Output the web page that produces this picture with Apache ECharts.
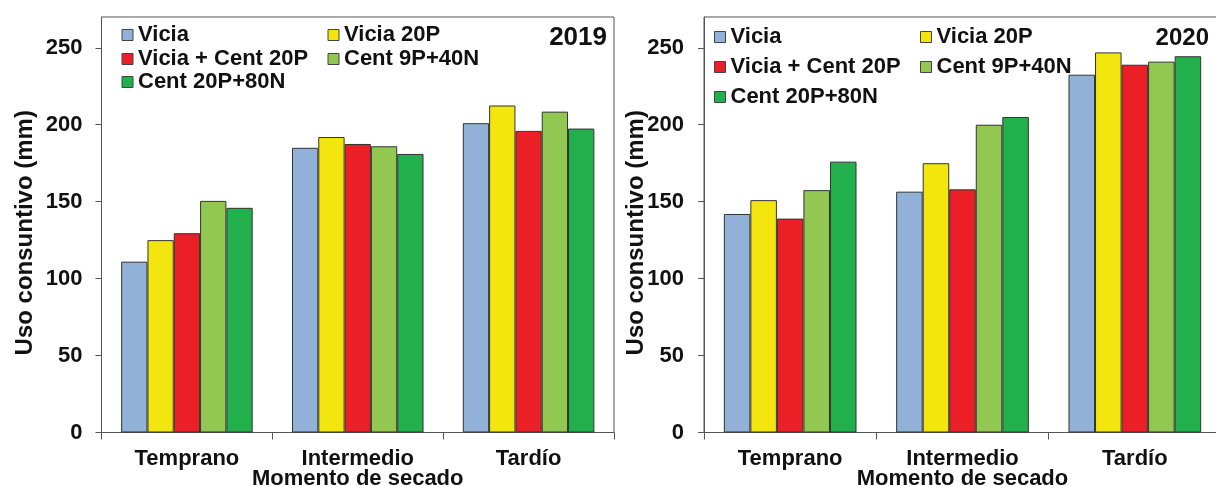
<!DOCTYPE html>
<html>
<head>
<meta charset="utf-8">
<script src="https://cdn.jsdelivr.net/npm/echarts@6/dist/echarts.min.js"></script>
<style>
html,body{margin:0;padding:0;background:#fff;}
#chart{width:1216px;height:486px;}
</style>
</head>
<body>
<div id="chart"></div>
<script>
// ---- data ----
const categories = ['Temprano', 'Intermedio', 'Tardío'];
const seriesNames = ['Vicia', 'Vicia 20P', 'Vicia + Cent 20P', 'Cent 9P+40N', 'Cent 20P+80N'];
const yTicks = [0, 50, 100, 150, 200, 250];

// 2019
const vicia2019      = [111, 185, 201];
const vicia20P2019   = [125, 192, 212.5];
const viciaCent2019  = [129.5, 187.5, 196];
const cent9P2019     = [150.5, 186, 208.5];
const cent20P2019    = [146, 181, 197.5];

// 2020
const vicia2020      = [142, 156.5, 232.5];
const vicia20P2020   = [151, 175, 247];
const viciaCent2020  = [139, 158, 239];
const cent9P2020     = [157.5, 200, 241];
const cent20P2020    = [176, 205, 244.5];

const colors = ['#92b1d8', '#f2e60e', '#ec1f26', '#92c852', '#22b04c'];

const data2019 = [vicia2019, vicia20P2019, viciaCent2019, cent9P2019, cent20P2019];
const data2020 = [vicia2020, vicia20P2020, viciaCent2020, cent9P2020, cent20P2020];

const FONT = '"Liberation Sans", Arial, sans-serif';
const axisColor = '#555';

function xAxisFor(gridIndex) {
  return {
    type: 'category', gridIndex, data: categories,
    name: 'Momento de secado', nameLocation: 'middle', nameGap: 35, nameMoveOverlap: false,
    nameTextStyle: {fontFamily: FONT, fontWeight: 'bold', fontSize: 22, color: '#111'},
    axisLine: {lineStyle: {color: axisColor, width: 1}},
    axisTick: {show: true, inside: false, length: 7, alignWithLabel: false, lineStyle: {color: axisColor}},
    axisLabel: {margin: 15, fontFamily: FONT, fontWeight: 'bold', fontSize: 22, color: '#111'},
    splitLine: {show: false}
  };
}
function yAxisFor(gridIndex, nameGap, labelMargin) {
  return {
    type: 'value', gridIndex, min: 0, max: 270,
    name: 'Uso consuntivo (mm)', nameLocation: 'middle', nameGap: nameGap, nameRotate: 90, nameMoveOverlap: false,
    nameTextStyle: {fontFamily: FONT, fontWeight: 'bold', fontSize: 24, color: '#111', padding: [0, 16, 0, 0]},
    axisLine: {show: true, lineStyle: {color: axisColor, width: 1}},
    axisTick: {show: true, length: 6, customValues: yTicks, lineStyle: {color: axisColor}},
    axisLabel: {margin: labelMargin, customValues: yTicks, fontFamily: FONT, fontWeight: 'bold', fontSize: 22, color: '#111'},
    splitLine: {show: false}
  };
}

function legendsFor(x1, x2, rowTops) {
  const pos = [[x1, rowTops[0]], [x2, rowTops[0]], [x1, rowTops[1]], [x2, rowTops[1]], [x1, rowTops[2]]];
  return seriesNames.map((n, i) => ({
    data: [n], left: pos[i][0], top: pos[i][1], padding: 0,
    itemWidth: 11, itemHeight: 11, icon: 'rect',
    itemStyle: {borderColor: '#444', borderWidth: 1},
    textStyle: {fontFamily: FONT, fontWeight: 'bold', fontSize: 22, color: '#111', padding: [0, 0, 0, 0]},
    selectedMode: false
  }));
}

const series = [];
data2019.forEach((d, i) => series.push({
  name: seriesNames[i], type: 'bar', xAxisIndex: 0, yAxisIndex: 0, data: d,
  barGap: '0%', barCategoryGap: '23%',
  itemStyle: {color: colors[i], borderColor: '#333', borderWidth: 1},
  emphasis: {disabled: true}
}));
data2020.forEach((d, i) => series.push({
  name: seriesNames[i], type: 'bar', xAxisIndex: 1, yAxisIndex: 1, data: d,
  barGap: '0%', barCategoryGap: '23%',
  itemStyle: {color: colors[i], borderColor: '#333', borderWidth: 1},
  emphasis: {disabled: true}
}));

const chart = echarts.init(document.getElementById('chart'), null, {renderer: 'canvas'});
chart.setOption({
  animation: false,
  backgroundColor: '#fff',
  grid: [
    {left: 101.5, top: 17, width: 512.5, height: 415.5, outerBoundsMode: 'none', containLabel: false, show: true, borderColor: axisColor, borderWidth: 1, backgroundColor: 'transparent'},
    {left: 704, top: 17, width: 517, height: 415.5, outerBoundsMode: 'none', containLabel: false, show: true, borderColor: axisColor, borderWidth: 1, backgroundColor: 'transparent'}
  ],
  xAxis: [xAxisFor(0), xAxisFor(1)],
  yAxis: [yAxisFor(0, 64, 19), yAxisFor(1, 56, 20)],
  legend: legendsFor(121.5, 327.5, [24, 48, 71]).concat(legendsFor(714, 920, [26, 56, 86])),
  graphic: [
    {type: 'text', x: 607, y: 38, style: {text: '2019', fill: '#111', font: 'bold 26px "Liberation Sans", Arial, sans-serif', textAlign: 'right', textVerticalAlign: 'middle'}},
    {type: 'text', x: 1209, y: 38, style: {text: '2020', fill: '#111', font: 'bold 24px "Liberation Sans", Arial, sans-serif', textAlign: 'right', textVerticalAlign: 'middle'}}
  ],
  series
});
</script>
</body>
</html>
